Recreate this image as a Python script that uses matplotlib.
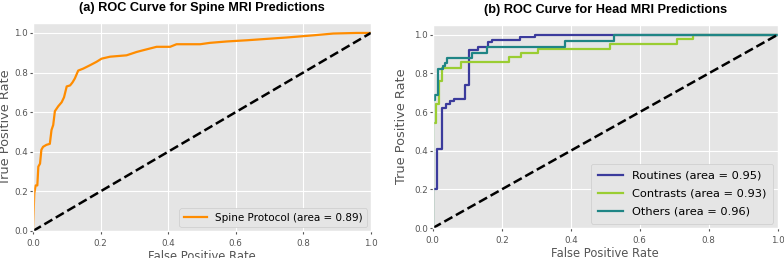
import matplotlib
matplotlib.use("Agg")
import matplotlib.pyplot as plt

plt.style.use("ggplot")

# Spine ROC
spine_fpr = [0, 0.004, 0.008, 0.013, 0.016, 0.021, 0.025, 0.030, 0.040, 0.050, 0.055, 0.060,
             0.065, 0.075, 0.085, 0.092, 0.100, 0.110, 0.117, 0.124, 0.134, 0.149, 0.169,
             0.188, 0.203, 0.228, 0.277, 0.307, 0.327, 0.366, 0.406, 0.425, 0.495, 0.524,
             0.574, 0.633, 0.751, 0.830, 0.889, 0.958, 1.0]
spine_tpr = [0, 0.19, 0.23, 0.23, 0.325, 0.34, 0.41, 0.425, 0.435, 0.44, 0.51, 0.535,
             0.605, 0.63, 0.65, 0.675, 0.73, 0.735, 0.75, 0.77, 0.81, 0.82, 0.837,
             0.854, 0.87, 0.88, 0.887, 0.904, 0.913, 0.93, 0.93, 0.943, 0.943, 0.95,
             0.957, 0.963, 0.977, 0.988, 0.997, 1.0, 1.0]

# Head ROC curves
routine_fpr = [0, 0, 0.012, 0.012, 0.027, 0.027, 0.039, 0.039, 0.050, 0.050, 0.061, 0.061,
               0.093, 0.093, 0.106, 0.106, 0.132, 0.132, 0.159, 0.159, 0.172, 0.172,
               0.253, 0.253, 0.295, 0.295, 1.0]
routine_tpr = [0, 0.2, 0.2, 0.41, 0.41, 0.62, 0.62, 0.64, 0.64, 0.655, 0.655, 0.67,
               0.67, 0.74, 0.74, 0.92, 0.92, 0.935, 0.935, 0.96, 0.96, 0.975,
               0.975, 0.988, 0.988, 1.0, 1.0]

contrast_fpr = [0, 0, 0.010, 0.010, 0.017, 0.017, 0.026, 0.026, 0.082, 0.082, 0.222, 0.222,
                0.257, 0.257, 0.304, 0.304, 0.515, 0.515, 0.707, 0.707, 0.753, 0.753, 1.0]
contrast_tpr = [0, 0.545, 0.545, 0.64, 0.64, 0.76, 0.76, 0.83, 0.83, 0.857, 0.857, 0.884,
                0.884, 0.905, 0.905, 0.926, 0.926, 0.953, 0.953, 0.978, 0.978, 1.0, 1.0]

other_fpr = [0, 0, 0.006, 0.006, 0.015, 0.015, 0.030, 0.030, 0.036, 0.036, 0.042, 0.042,
             0.114, 0.114, 0.156, 0.156, 0.382, 0.382, 0.526, 0.526, 1.0]
other_tpr = [0, 0.664, 0.664, 0.69, 0.69, 0.822, 0.822, 0.836, 0.836, 0.852, 0.852, 0.879,
             0.879, 0.905, 0.905, 0.938, 0.938, 0.969, 0.969, 1.0, 1.0]

spine_label = "Spine Protocol (area = 0.89)"
head_labels = ["Routines (area = 0.95)", "Contrasts (area = 0.93)", "Others (area = 0.96)"]
titles = ["(a) ROC Curve for Spine MRI Predictions", "(b) ROC Curve for Head MRI Predictions"]
ticks = [0.0, 0.2, 0.4, 0.6, 0.8, 1.0]

fig = plt.figure(figsize=(7.84, 2.58), dpi=100)
ax1 = fig.add_axes([0.042, 0.1047, 0.431, 0.806])
ax2 = fig.add_axes([0.552, 0.116, 0.440, 0.787])

ax1.plot(spine_fpr, spine_tpr, color="darkorange", lw=1.6, label=spine_label)
ax2.plot(routine_fpr, routine_tpr, color="#3b3b9c", lw=1.6, label=head_labels[0])
ax2.plot(contrast_fpr, contrast_tpr, color="#9acd32", lw=1.6, label=head_labels[1])
ax2.plot(other_fpr, other_tpr, color="#1f8585", lw=1.6, label=head_labels[2])

ylab_x = [-0.062, -0.072]
for i, (ax, title) in enumerate(zip([ax1, ax2], titles)):
    ax.plot([0, 1], [0, 1], "k--", lw=1.8)
    ax.set_xlim(0, 1.0)
    ax.set_ylim(0, 1.05)
    ax.set_xticks(ticks)
    ax.set_yticks(ticks)
    ax.tick_params(labelsize=6.3, colors="#555555", length=2)
    ax.tick_params(axis="y", pad=1.5)
    ax.set_xlabel("False Positive Rate", fontsize=8.3, color="#555555", labelpad=2)
    ax.set_ylabel("True Positive Rate", fontsize=9.3, color="#555555")
    ax.yaxis.set_label_coords(ylab_x[i], 0.5)
    ax.set_title(title, fontsize=9.2, fontweight="bold", family="Liberation Sans", pad=9)

ax1.legend(loc="lower right", fontsize=7.5, facecolor="#e5e5e5", edgecolor="#cccccc",
           framealpha=1.0, handlelength=2.2, borderaxespad=0.4)
ax2.legend(loc="lower right", fontsize=8.2, facecolor="#e5e5e5", edgecolor="#cccccc",
           framealpha=1.0, handlelength=2.2, borderaxespad=0.4, labelspacing=0.7,
           borderpad=0.6)

fig.savefig("out.png", dpi=100)
